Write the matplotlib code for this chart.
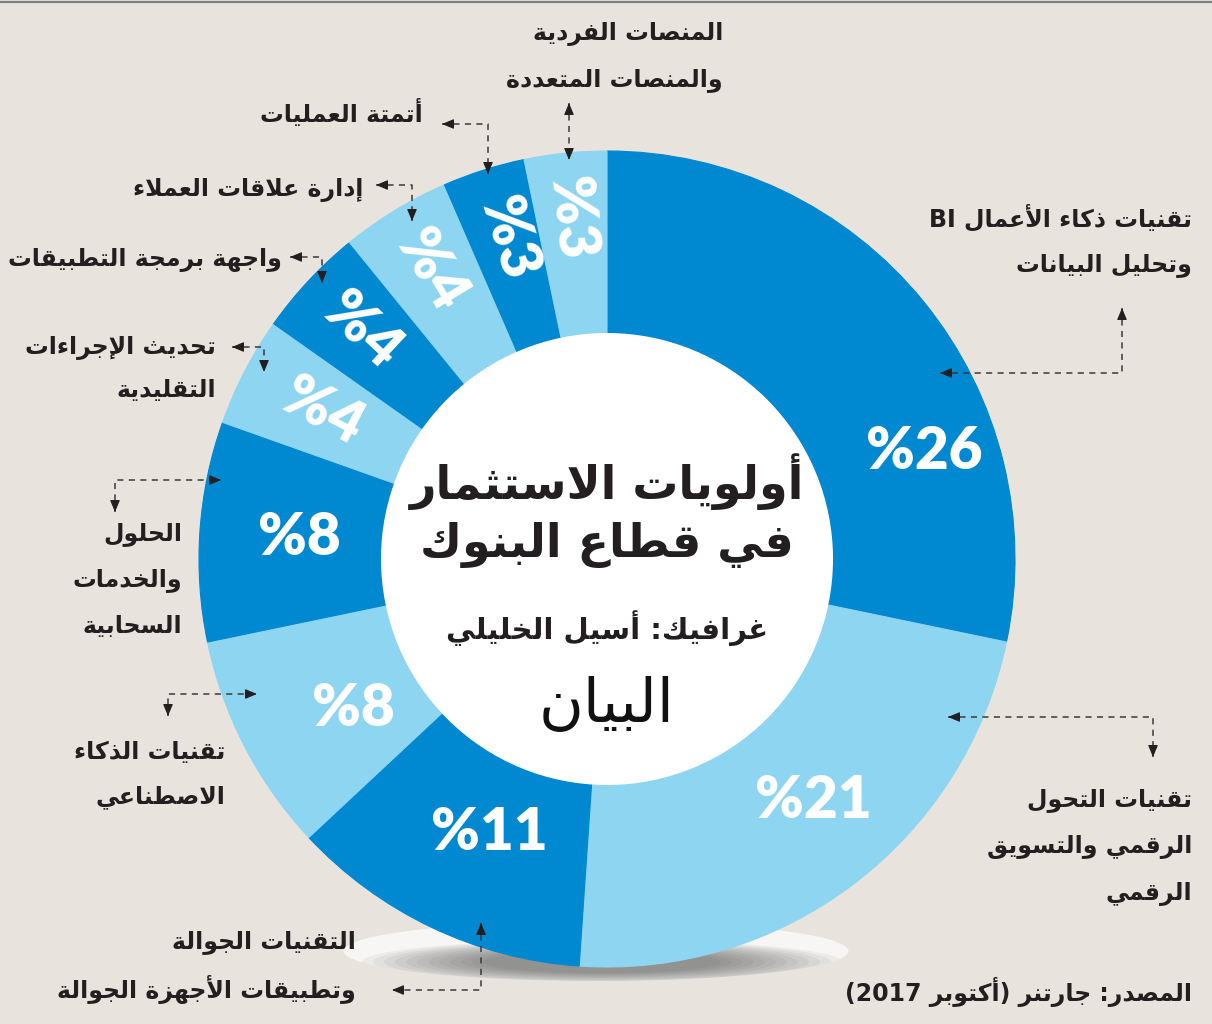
import re
import numpy as np
import matplotlib
matplotlib.use('Agg')
import matplotlib.pyplot as plt
from matplotlib.patches import Circle, Ellipse

# ---- data (clockwise from 12 o'clock) ----
categories = [
    ['تقنيات ذكاء الأعمال BI', 'وتحليل البيانات'],
    ['تقنيات التحول', 'الرقمي والتسويق', 'الرقمي'],
    ['التقنيات الجوالة', 'وتطبيقات الأجهزة الجوالة'],
    ['تقنيات الذكاء', 'الاصطناعي'],
    ['الحلول', 'والخدمات', 'السحابية'],
    ['تحديث الإجراءات', 'التقليدية'],
    ['واجهة برمجة التطبيقات'],
    ['إدارة علاقات العملاء'],
    ['أتمتة العمليات'],
    ['المنصات الفردية', 'والمنصات المتعددة'],
]
shares = [26, 21, 11, 8, 8, 4, 4, 4, 3, 3]

title_lines = ['أولويات الاستثمار', 'في قطاع البنوك']
credit = 'غرافيك: أسيل الخليلي'
logo = 'البيان'
source = 'المصدر: جارتنر (أكتوبر 2017)'

DARK = '#0088D0'
LIGHT = '#8ED5F2'
BG = '#E8E4DD'
INK = '#231F20'

# ---- minimal arabic shaping (matplotlib has no complex text layout) ----
AR_LETTERS = 'ءآأؤإئابةتثجحخدذرزسشصضطظعغفقكلمنهوىي'
AR_NFORMS = [1, 2, 2, 2, 2, 4, 2, 4, 2, 4, 4, 4, 4, 4, 2, 2, 2, 2, 4, 4,
             4, 4, 4, 4, 4, 4, 4, 4, 4, 4, 4, 4, 4, 2, 2, 4]
AR_FORMS = {}
_code = 0xFE80
for _ch, _n in zip(AR_LETTERS, AR_NFORMS):
    AR_FORMS[_ch] = (_code, _n)
    _code += _n
LAM_ALEF = {'آ': 0xFEF5, 'أ': 0xFEF7, 'إ': 0xFEF9, 'ا': 0xFEFB}
for _c in LAM_ALEF.values():
    AR_FORMS[chr(_c)] = (_c, 2)


def shape(s):
    chars = []
    i = 0
    while i < len(s):
        if s[i] == 'ل' and i + 1 < len(s) and s[i + 1] in LAM_ALEF:
            chars.append(chr(LAM_ALEF[s[i + 1]]))
            i += 2
        else:
            chars.append(s[i])
            i += 1
    out = []
    for i, ch in enumerate(chars):
        if ch not in AR_FORMS:
            out.append(ch)
            continue
        start, n = AR_FORMS[ch]
        prev = chars[i - 1] if i > 0 else ''
        nxt = chars[i + 1] if i + 1 < len(chars) else ''
        jp = n > 1 and AR_FORMS.get(prev, (0, 0))[1] == 4
        jn = n == 4 and AR_FORMS.get(nxt, (0, 0))[1] > 1
        form = (3 if jn else 1) if jp else (2 if jn else 0)
        out.append(chr(start + form))
    return ''.join(out)


def ar(s):
    # shape, then lay out right-to-left keeping latin/digit runs
    v = shape(s)[::-1]
    v = re.sub(r'[A-Za-z0-9]+', lambda m: m.group(0)[::-1], v)
    return v.translate(str.maketrans('()', ')('))


plt.rcParams['font.family'] = ['DejaVu Sans']

fig = plt.figure(figsize=(12.12, 10.24), dpi=100, facecolor=BG)
ax = fig.add_axes([0, 0, 1, 1])
ax.set_facecolor(BG)

cx, cy, R, r_in = 607, 559, 408, 226

# base plate + soft shadow under the ring
plate = Ellipse((596, 951), 505, 60, fc='#f7f6f4', ec='none', zorder=1)
ax.add_patch(plate)
for k in range(12):
    sh = Ellipse((602, 962), 480 - k * 22, 44 - k * 2, fc='#3c3c3c',
                 ec='none', alpha=0.06, zorder=2)
    sh.set_clip_path(plate)
    ax.add_patch(sh)

colors = [DARK if i % 2 == 0 else LIGHT for i in range(len(shares))]
# y axis is flipped below, so counterclock in data runs clockwise on screen
wedges, _ = ax.pie(shares, colors=colors, startangle=-90, counterclock=True,
                   radius=R, center=(cx, cy),
                   wedgeprops=dict(width=R - r_in, linewidth=0.8))
for w, c in zip(wedges, colors):
    w.set_edgecolor(c)
    w.set_zorder(3)
ax.add_patch(Circle((cx, cy), r_in, fc='white', ec='none', zorder=4))

# percentage labels
label_frac = [0.70, 0.46, 0.45, 0.40, 0.50, 0.5, 0.5, 0.5, 0.55, 0.5]
label_rad = [335, 318, 298, 295, 308, 320, 335, 338, 335, 342]
for w, v, f, rr in zip(wedges, shares, label_frac, label_rad):
    th = w.theta1 + f * (w.theta2 - w.theta1)
    x = cx + rr * np.cos(np.radians(th))
    y = cy + rr * np.sin(np.radians(th))
    rot = 0
    if v <= 4:
        rot = (-th - 180) % 360
        if rot > 180:
            rot -= 360
    ax.text(x, y, ar(f'{v}%'), color='white', fontsize=42, fontweight='heavy',
            family=['Lato', 'DejaVu Sans'], ha='center', va='center',
            rotation=rot, rotation_mode='anchor', zorder=6)

# category labels: right edge x, first line y, line step
label_layout = [
    (1192, 218, 47), (1192, 800, 47), (356, 942, 48), (225, 752, 45),
    (182, 534, 46), (216, 348, 42), (282, 260, 0), (363, 190, 0),
    (423, 113, 0), (723, 34, 46),
]
for lines, (tx, ty, step) in zip(categories, label_layout):
    for j, line in enumerate(lines):
        ax.text(tx, ty + j * step, ar(line), color=INK, fontsize=17,
                fontweight='bold', ha='right', va='center', zorder=6)

# dashed leaders, arrowheads on both ends
leaders = [
    [(1122, 308), (1122, 373), (940, 373)],
    [(948, 717), (1153, 717), (1153, 757)],
    [(481, 923), (481, 990), (392, 990)],
    [(168, 716), (168, 694), (257, 694)],
    [(115, 512), (115, 480), (221, 480)],
    [(232, 347), (264, 347), (264, 372)],
    [(290, 257), (322, 257), (322, 283)],
    [(376, 185), (412, 185), (412, 221)],
    [(442, 124), (488, 124), (488, 174)],
    [(569, 103), (569, 160)],
]


def head(tip, frm):
    dx, dy = tip[0] - frm[0], tip[1] - frm[1]
    d = (dx ** 2 + dy ** 2) ** 0.5
    back = (tip[0] - dx / d * 7, tip[1] - dy / d * 7)
    ax.annotate('', xy=tip, xytext=back, zorder=7,
                arrowprops=dict(arrowstyle='-|>,head_length=0.6,head_width=0.25',
                                color=INK, lw=0.8, shrinkA=0, shrinkB=0,
                                mutation_scale=12))


for pts in leaders:
    xs = [p[0] for p in pts]
    ys = [p[1] for p in pts]
    ax.plot(xs, ys, color='#3a3a3a', lw=1.1, ls=(0, (4, 3.5)), zorder=7)
    head(pts[0], pts[1])
    head(pts[-1], pts[-2])

# centre block
ax.text(cx, 482, ar(title_lines[0]), color=INK, fontsize=33, fontweight='bold',
        ha='center', va='center', zorder=6)
ax.text(cx, 545, ar(title_lines[1]), color=INK, fontsize=33, fontweight='bold',
        ha='center', va='center', zorder=6)
ax.text(cx, 628, ar(credit), color=INK, fontsize=21, fontweight='bold',
        ha='center', va='center', zorder=6)
ax.text(cx, 705, ar(logo), color='#111111', fontsize=44,
        ha='center', va='center', zorder=6)

ax.text(1192, 992, ar(source), color=INK, fontsize=17, fontweight='bold',
        ha='right', va='center', zorder=6)

ax.plot([0, 1212], [2, 2], color='#808080', lw=1.6, zorder=8)

ax.set_xlim(0, 1212)
ax.set_ylim(1024, 0)
ax.set_aspect('auto')
ax.axis('off')

fig.savefig('out.png', dpi=100, facecolor=BG)
